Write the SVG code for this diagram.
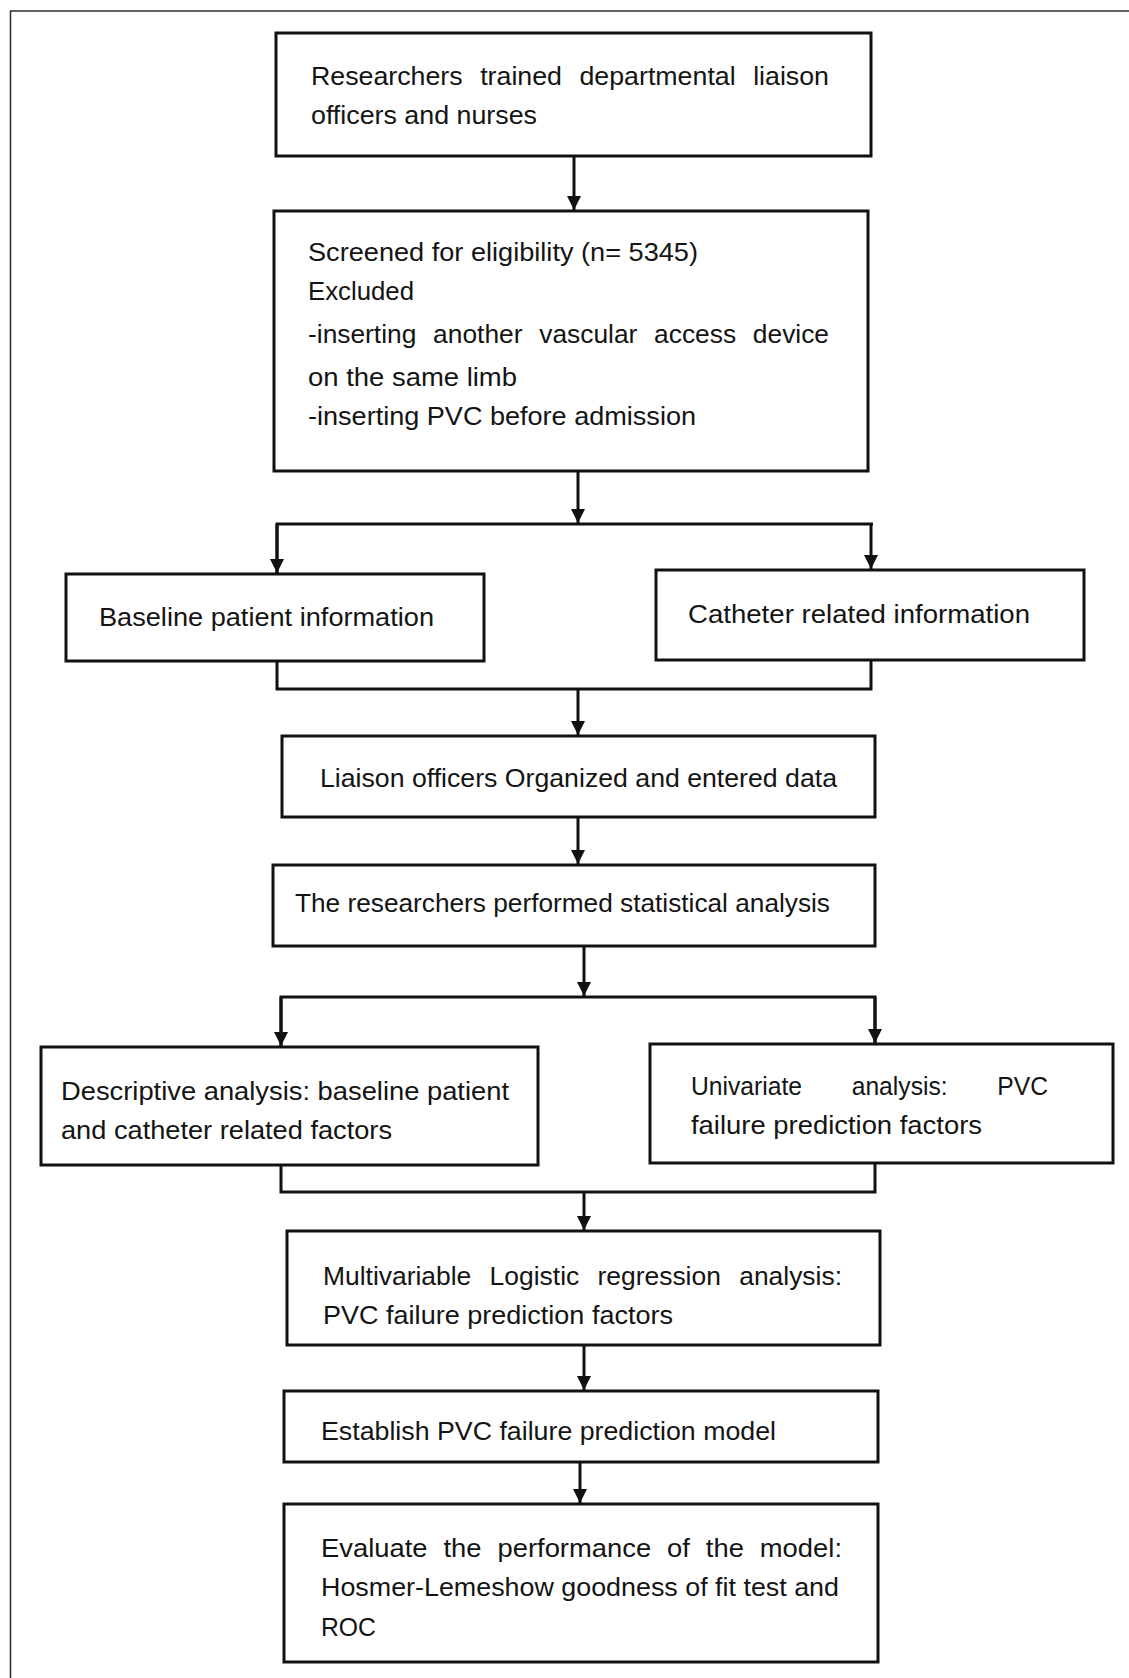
<svg xmlns="http://www.w3.org/2000/svg" width="1129" height="1678" viewBox="0 0 1129 1678">
<style>
.box{fill:#ffffff;stroke:#111111;stroke-width:3}
.t{font-family:"Liberation Sans",Arial,sans-serif;font-size:26.5px;fill:#141414}
.c{fill:none;stroke:#111111;stroke-width:3}
.frame{fill:none;stroke:#333333;stroke-width:1.6}
</style>
<defs>
<marker id="ah" markerUnits="userSpaceOnUse" markerWidth="14" markerHeight="14" refX="14" refY="7" orient="auto">
<path d="M0,0 L14,7 L0,14 z" fill="#111111"/>
</marker>
</defs>
<rect width="1129" height="1678" fill="#ffffff"/>
<path class="frame" d="M10.5,1678 V11 H1129"/>

<g id="connectors">
<line class="c" x1="574" y1="156" x2="574" y2="210" marker-end="url(#ah)"/>
<line class="c" x1="578" y1="471" x2="578" y2="523" marker-end="url(#ah)"/>
<polyline class="c" points="277,573 277,524 873,524"/>
<line class="c" x1="871" y1="524" x2="871" y2="569" marker-end="url(#ah)"/>
<line class="c" x1="277" y1="524" x2="277" y2="573" marker-end="url(#ah)"/>
<polyline class="c" points="277,661 277,689 871,689 871,660"/>
<line class="c" x1="578" y1="689" x2="578" y2="735" marker-end="url(#ah)"/>
<line class="c" x1="578" y1="817" x2="578" y2="864" marker-end="url(#ah)"/>
<line class="c" x1="584" y1="946" x2="584" y2="996" marker-end="url(#ah)"/>
<polyline class="c" points="281,1046 281,997 875,997 875,1043"/>
<line class="c" x1="281" y1="997" x2="281" y2="1046" marker-end="url(#ah)"/>
<line class="c" x1="875" y1="997" x2="875" y2="1043" marker-end="url(#ah)"/>
<polyline class="c" points="281,1165 281,1192 875,1192 875,1163"/>
<line class="c" x1="584" y1="1192" x2="584" y2="1230" marker-end="url(#ah)"/>
<line class="c" x1="584" y1="1345" x2="584" y2="1390" marker-end="url(#ah)"/>
<line class="c" x1="580" y1="1462" x2="580" y2="1503" marker-end="url(#ah)"/>
</g>

<g id="n1">
<rect class="box" x="276" y="33" width="595" height="123"/>
<text class="t" x="311" y="85" word-spacing="10" textLength="518" lengthAdjust="spacingAndGlyphs">Researchers trained departmental liaison</text>
<text class="t" x="311" y="124" textLength="226" lengthAdjust="spacingAndGlyphs">officers and nurses</text>
</g>

<g id="n2">
<rect class="box" x="274" y="211" width="594" height="260"/>
<text class="t" x="308" y="261" textLength="390" lengthAdjust="spacingAndGlyphs">Screened for eligibility (n= 5345)</text>
<text class="t" x="308" y="300" textLength="106" lengthAdjust="spacingAndGlyphs">Excluded</text>
<text class="t" x="308" y="343" word-spacing="9.5" textLength="521" lengthAdjust="spacingAndGlyphs">-inserting another vascular access device</text>
<text class="t" x="308" y="386" textLength="209" lengthAdjust="spacingAndGlyphs">on the same limb</text>
<text class="t" x="308" y="425" textLength="388" lengthAdjust="spacingAndGlyphs">-inserting PVC before admission</text>
</g>

<g id="n3">
<rect class="box" x="66" y="574" width="418" height="87"/>
<text class="t" x="99" y="626" textLength="335" lengthAdjust="spacingAndGlyphs">Baseline patient information</text>
</g>

<g id="n4">
<rect class="box" x="656" y="570" width="428" height="90"/>
<text class="t" x="688" y="623" textLength="342" lengthAdjust="spacingAndGlyphs">Catheter related information</text>
</g>

<g id="n5">
<rect class="box" x="282" y="736" width="593" height="81"/>
<text class="t" x="320" y="787" textLength="517" lengthAdjust="spacingAndGlyphs">Liaison officers Organized and entered data</text>
</g>

<g id="n6">
<rect class="box" x="273" y="865" width="602" height="81"/>
<text class="t" x="295" y="912" textLength="535" lengthAdjust="spacingAndGlyphs">The researchers performed statistical analysis</text>
</g>

<g id="n7">
<rect class="box" x="41" y="1047" width="497" height="118"/>
<text class="t" x="61" y="1100" textLength="448" lengthAdjust="spacingAndGlyphs">Descriptive analysis: baseline patient</text>
<text class="t" x="61" y="1139" textLength="331" lengthAdjust="spacingAndGlyphs">and catheter related factors</text>
</g>

<g id="n8">
<rect class="box" x="650" y="1044" width="463" height="119"/>
<text class="t" x="691" y="1095" word-spacing="46" textLength="357" lengthAdjust="spacingAndGlyphs">Univariate analysis: PVC</text>
<text class="t" x="691" y="1134" textLength="291" lengthAdjust="spacingAndGlyphs">failure prediction factors</text>
</g>

<g id="n9">
<rect class="box" x="287" y="1231" width="593" height="114"/>
<text class="t" x="323" y="1285" word-spacing="11" textLength="519" lengthAdjust="spacingAndGlyphs">Multivariable Logistic regression analysis:</text>
<text class="t" x="323" y="1324" textLength="350" lengthAdjust="spacingAndGlyphs">PVC failure prediction factors</text>
</g>

<g id="n10">
<rect class="box" x="284" y="1391" width="594" height="71"/>
<text class="t" x="321" y="1440" textLength="455" lengthAdjust="spacingAndGlyphs">Establish PVC failure prediction model</text>
</g>

<g id="n11">
<rect class="box" x="284" y="1504" width="594" height="158"/>
<text class="t" x="321" y="1557" word-spacing="8" textLength="521" lengthAdjust="spacingAndGlyphs">Evaluate the performance of the model:</text>
<text class="t" x="321" y="1596" textLength="518" lengthAdjust="spacingAndGlyphs">Hosmer-Lemeshow goodness of fit test and</text>
<text class="t" x="321" y="1636" textLength="55" lengthAdjust="spacingAndGlyphs">ROC</text>
</g>
</svg>
